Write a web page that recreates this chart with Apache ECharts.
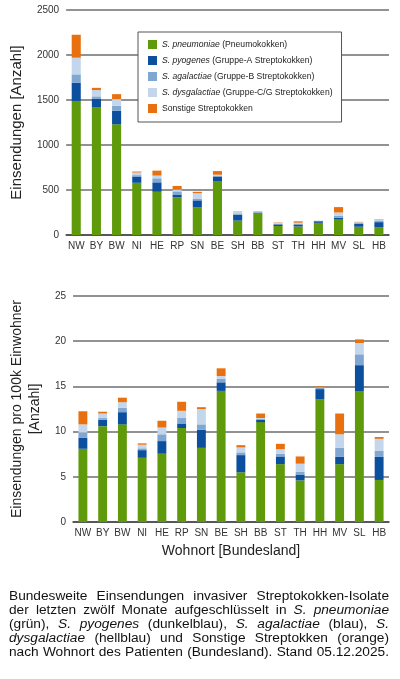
<!DOCTYPE html>
<html>
<head>
<meta charset="utf-8">
<script src="https://cdn.jsdelivr.net/npm/echarts@6/dist/echarts.min.js"></script>
<style>
html,body{margin:0;padding:0;background:#fff;}
#chart{position:absolute;left:0;top:0;width:400px;height:679px;}
#caption{position:absolute;left:9px;top:589px;width:380px;font-family:"Liberation Sans",Arial,sans-serif;font-size:13.7px;line-height:14.1px;color:#111;}
#caption div{text-align:justify;text-align-last:justify;white-space:nowrap;}
#caption i{font-style:italic;}
</style>
</head>
<body>
<div id="chart"></div>
<div id="caption">
<div>Bundesweite Einsendungen invasiver Streptokokken-Isolate</div>
<div>der letzten zwölf Monate aufgeschlüsselt in <i>S. pneumoniae</i></div>
<div>(grün), <i>S. pyogenes</i> (dunkelblau), <i>S. agalactiae</i> (blau), <i>S.</i></div>
<div><i>dysgalactiae</i> (hellblau) und Sonstige Streptokken (orange)</div>
<div>nach Wohnort des Patienten (Bundesland). Stand 05.12.2025.</div>
</div>
<script>
const categories = ['NW','BY','BW','NI','HE','RP','SN','BE','SH','BB','ST','TH','HH','MV','SL','HB'];
const seriesNames = ['S. pneumoniae','S. pyogenes','S. agalactiae','S. dysgalactiae','Sonstige Streptokokken'];
const seriesSuffix = ['(Pneumokokken)','(Gruppe-A Streptokokken)','(Gruppe-B Streptokokken)','(Gruppe-C/G Streptokokken)',''];
const colors = ['#5e9a0a','#0b4f9e','#7fa7d2','#c3d6ec','#e8700e'];

// absolute counts
const countPneumoniae   = [1490,1415,1230,580,480,420,305,600,160,245,100,95,135,170,92,88];
const countPyogenes     = [200,100,150,70,105,30,80,50,65,5,18,22,18,20,30,55];
const countAgalactiae   = [95,25,55,15,45,35,20,10,15,3,8,10,3,25,10,18];
const countDysgalactiae = [185,70,75,30,30,20,60,10,15,3,10,10,2,35,10,12];
const countSonstige     = [255,25,55,10,55,40,15,40,5,5,4,15,1,60,4,4];

// per 100k inhabitants
const ratePneumoniae   = [8.1,10.6,10.8,7.1,7.55,10.4,8.2,14.5,5.5,11.05,6.4,4.6,13.55,6.4,14.45,4.65];
const ratePyogenes     = [1.2,0.7,1.35,0.85,1.4,0.5,2.0,0.95,1.9,0.25,0.85,0.65,1.15,0.8,2.9,2.55];
const rateAgalactiae   = [0.6,0.2,0.5,0.2,0.75,0.6,0.6,0.4,0.3,0.1,0.3,0.3,0.15,1.0,1.2,0.7];
const rateDysgalactiae = [0.9,0.5,0.6,0.4,0.75,0.8,1.7,0.3,0.55,0.1,0.5,0.9,0.05,1.5,1.25,1.3];
const rateSonstige     = [1.45,0.2,0.5,0.15,0.75,1.0,0.2,0.85,0.25,0.5,0.6,0.8,0.1,2.3,0.4,0.2];

const countData = [countPneumoniae,countPyogenes,countAgalactiae,countDysgalactiae,countSonstige];
const rateData = [ratePneumoniae,ratePyogenes,rateAgalactiae,rateDysgalactiae,rateSonstige];

const topTicks = [0,500,1000,1500,2000,2500];
const bottomTicks = [0,5,10,15,20,25];

const FONT = '"Liberation Sans", Arial, sans-serif';
const chart = echarts.init(document.getElementById('chart'));

function xAxisCfg(idx, name){
  return {
    type:'category', gridIndex:idx, data:categories,
    axisLine:{show:true,lineStyle:{color:'#444',width:1.5}},
    axisTick:{show:false},
    axisLabel:{color:'#333',fontSize:10,fontFamily:FONT,margin:6,interval:0},
    name:name, nameLocation:'middle', nameGap:22,
    nameTextStyle:{color:'#222',fontSize:14,fontFamily:FONT}
  };
}
function yAxisCfg(idx, ticks, name, gap, fs){
  return {
    type:'value', gridIndex:idx, min:ticks[0], max:ticks[ticks.length-1],
    interval:ticks[1]-ticks[0],
    axisLine:{show:false}, axisTick:{show:false},
    axisLabel:{color:'#333',fontSize:10,fontFamily:FONT,margin:7,formatter:v=>String(v)},
    splitLine:{lineStyle:{color:'#6e6e6e',width:1.5}},
    name:name, nameLocation:'middle', nameGap:gap, nameRotate:90,
    nameTextStyle:{color:'#222',fontSize:fs,fontFamily:FONT,lineHeight:18}
  };
}

const series = [];
seriesNames.forEach((n,i)=>{
  series.push({name:n,type:'bar',stack:'top',xAxisIndex:0,yAxisIndex:0,data:countData[i],
    barWidth:'45%',itemStyle:{color:colors[i]}});
});
seriesNames.forEach((n,i)=>{
  series.push({name:n,type:'bar',stack:'bottom',xAxisIndex:1,yAxisIndex:1,data:rateData[i],
    barWidth:'45%',itemStyle:{color:colors[i]}});
});

chart.setOption({
  animation:false,
  textStyle:{fontFamily:FONT},
  grid:[
    {left:60,right:11,top:10,height:225},
    {left:62,right:11,top:296,height:226}
  ],
  xAxis:[xAxisCfg(0,''), xAxisCfg(1,'Wohnort [Bundesland]')],
  yAxis:[
    yAxisCfg(0, topTicks, 'Einsendungen [Anzahl]', 38, 15),
    yAxisCfg(1, bottomTicks, 'Einsendungen pro 100k Einwohner\n[Anzahl]', 20, 14)
  ],
  legend:{
    orient:'vertical', left:138, top:32, width:204,
    backgroundColor:'#fff', borderColor:'#555', borderWidth:1,
    padding:[8,9,9,10], itemGap:7, itemWidth:9, itemHeight:9,
    data:seriesNames,
    icon:'rect',
    formatter:function(name){
      const i = seriesNames.indexOf(name);
      if(i===4) return '{n|'+name+'}';
      return '{i|'+name+'} {n|'+seriesSuffix[i]+'}';
    },
    textStyle:{fontSize:8.6,color:'#222',fontFamily:FONT,
      rich:{i:{fontStyle:'italic',fontSize:8.6,color:'#222',fontFamily:FONT,lineHeight:11},
            n:{fontSize:8.6,color:'#222',fontFamily:FONT,lineHeight:11}}}
  },
  series:series
});
</script>
</body>
</html>
